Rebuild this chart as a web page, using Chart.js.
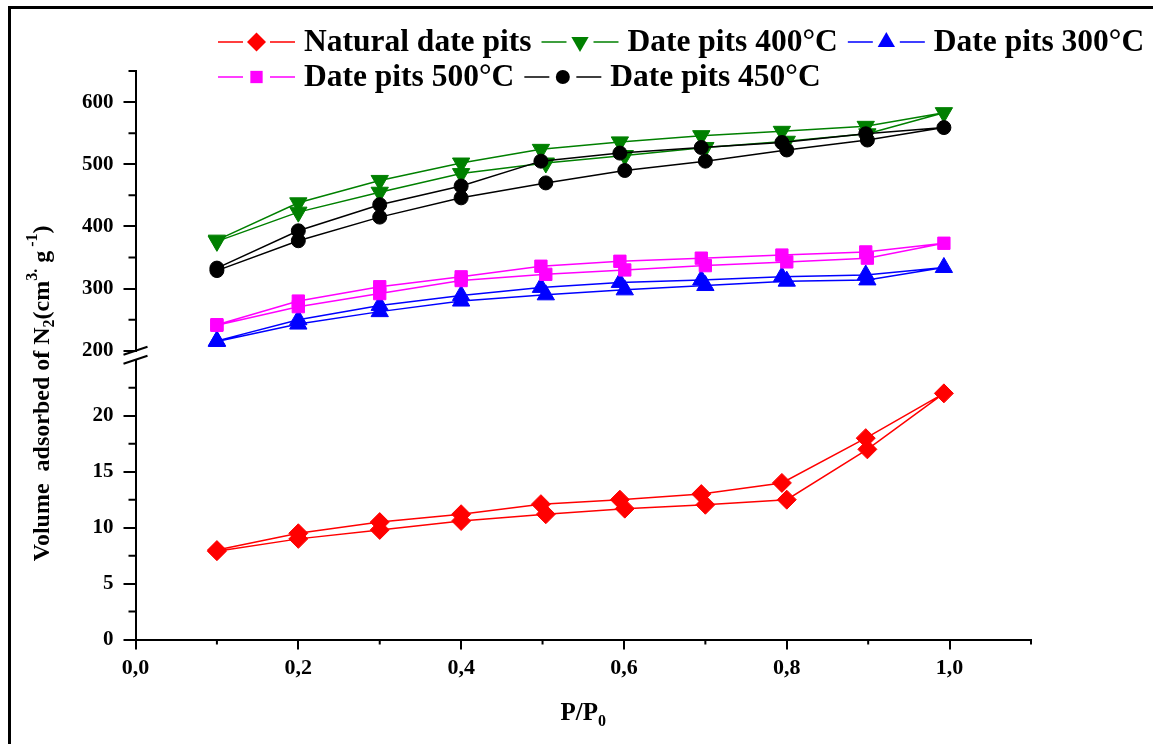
<!DOCTYPE html>
<html>
<head>
<meta charset="utf-8">
<title>N2 isotherms - date pits</title>
<script src="https://cdn.jsdelivr.net/npm/chart.js"></script>
<style>
html, body { margin: 0; padding: 0; background: #fff; }
#wrap { width: 1153px; height: 744px; }
</style>
</head>
<body>
<div id="wrap"><canvas id="chart" width="1153" height="744"></canvas></div>
<script>
// relative pressure, adsorption branch (going up) and desorption branch (coming back)
var pAds = [0.1, 0.2, 0.3, 0.4, 0.504, 0.601, 0.7, 0.8, 0.899, 0.993];
var pDes = [0.897, 0.794, 0.695, 0.595, 0.498, 0.4, 0.3, 0.2, 0.1];

// volume adsorbed (cm3/g)
var natAds = [7.9, 9.0, 9.8, 10.6, 11.2, 11.7, 12.05, 12.5, 17.0, 22.0];
var natDes = [18.0, 14.0, 13.0, 12.5, 12.1, 11.2, 10.5, 9.5, 8.0];
var t400Ads = [376, 423, 455, 485, 502, 514, 527, 537, 549, 583];
var t400Des = [561, 553, 546, 536, 524, 502, 474, 438, 378];
var t300Ads = [215, 243, 263, 280, 290, 298, 305, 312, 314, 334];
var t300Des = [322, 319, 314, 310, 302, 289, 273, 250, 216];
var t500Ads = [241, 271, 292, 313, 323, 330, 337, 343, 349, 373];
var t500Des = [359, 354, 349, 344, 336, 319, 303, 280, 242];
var t450Ads = [329, 377, 415, 446, 470, 490, 505, 523, 539, 559];
var t450Des = [549, 535, 527, 518, 505, 465, 435, 393, 333];

var seriesNames = ['Natural date pits', 'Date pits 400\u00B0C', 'Date pits 300\u00B0C', 'Date pits 500\u00B0C', 'Date pits 450\u00B0C'];

// axis ticks (major labelled, minor unlabelled)
var xTicks = [0, 0.2, 0.4, 0.6, 0.8, 1.0];
var xMinor = [0.1, 0.3, 0.5, 0.7, 0.9, 1.1];
var yLowTicks = [0, 5, 10, 15, 20];
var yLowMinor = [2.5, 7.5, 12.5, 17.5, 22.5];
var yUpTicks = [200, 300, 400, 500, 600];
var yUpMinor = [250, 350, 450, 550, 650];

function loop(ads, des) {
  var pts = [];
  for (var i = 0; i < ads.length; i++) pts.push({x: pAds[i], y: ads[i]});
  for (var j = 0; j < des.length; j++) pts.push({x: pDes[j], y: des[j]});
  return pts;
}

function series(label, ads, des, color, style, radius, rot, axis, order) {
  return {
    label: label,
    data: loop(ads, des),
    yAxisID: axis,
    order: order,
    borderColor: color,
    borderWidth: 1.5,
    backgroundColor: color,
    pointBackgroundColor: color,
    pointBorderColor: color,
    pointBorderWidth: 1,
    pointStyle: style,
    pointRadius: radius,
    pointHoverRadius: radius,
    pointRotation: rot,
    tension: 0,
    fill: false
  };
}

var serif = '"Liberation Serif", "Times New Roman", serif';

function setTicks(list) {
  return function (scale) { scale.ticks = list.map(function (v) { return {value: v}; }); };
}

var frame = {
  id: 'frame',
  beforeDraw: function (chart) {
    var ctx = chart.ctx;
    ctx.save();
    ctx.strokeStyle = '#000';
    ctx.lineWidth = 3;
    ctx.beginPath();
    ctx.moveTo(9.5, chart.height + 5);
    ctx.lineTo(9.5, 7.5);
    ctx.lineTo(chart.width + 5, 7.5);
    ctx.stroke();
    ctx.restore();
  }
};

var minorTicks = {
  id: 'minorTicks',
  afterDraw: function (chart) {
    var ctx = chart.ctx;
    var s = chart.scales;
    ctx.save();
    ctx.strokeStyle = '#000';
    ctx.lineWidth = 2;
    ctx.beginPath();
    xMinor.forEach(function (v) {
      var px = s.x.getPixelForValue(v);
      ctx.moveTo(px, s.x.top); ctx.lineTo(px, s.x.top + 5);
    });
    [[s.yLow, yLowMinor], [s.yUp, yUpMinor]].forEach(function (p) {
      p[1].forEach(function (v) {
        var py = p[0].getPixelForValue(v);
        ctx.moveTo(p[0].right, py); ctx.lineTo(p[0].right - 7, py);
      });
    });
    ctx.stroke();
    // axis break marks
    var ax = chart.chartArea.left;
    ctx.beginPath();
    [s.yUp.bottom, s.yLow.top].forEach(function (py) {
      ctx.moveTo(ax - 12, py + 4); ctx.lineTo(ax + 12, py - 4);
    });
    ctx.stroke();
    ctx.restore();
  }
};

function drawRuns(ctx, runs, size) {
  var small = Math.round(size * 0.65);
  var w = 0;
  runs.forEach(function (r) {
    ctx.font = 'bold ' + (r[1] ? small : size) + 'px ' + serif;
    r.w = ctx.measureText(r[0]).width;
    w += r.w;
  });
  var x = -w / 2;
  runs.forEach(function (r) {
    ctx.font = 'bold ' + (r[1] ? small : size) + 'px ' + serif;
    ctx.fillText(r[0], x, r[1] === 'sub' ? size * 0.3 : (r[1] === 'sup' ? -size * 0.42 : 0));
    x += r.w;
  });
}

var titles = {
  id: 'titles',
  afterDraw: function (chart) {
    var ctx = chart.ctx;
    var a = chart.chartArea;
    ctx.save();
    ctx.fillStyle = '#000';
    ctx.textBaseline = 'middle';
    ctx.textAlign = 'left';
    ctx.save();
    ctx.translate(43, (a.top + a.bottom) / 2 + 38);
    ctx.rotate(-Math.PI / 2);
    drawRuns(ctx, [['Volume  adsorbed of N'], ['2', 'sub'], ['(cm'], ['3.', 'sup'], [' g'], [' -1', 'sup'], [')']], 24);
    ctx.restore();
    ctx.save();
    ctx.translate((a.left + a.right) / 2, 714);
    drawRuns(ctx, [['P/P'], ['0', 'sub']], 25);
    ctx.restore();
    ctx.restore();
  }
};

var isoLegend = {
  id: 'isoLegend',
  afterDraw: function (chart) {
    var ctx = chart.ctx;
    var x0 = 218, x = x0, y = 42;
    ctx.save();
    ctx.font = 'bold 31.5px ' + serif;
    ctx.textBaseline = 'middle';
    chart.data.datasets.forEach(function (ds) {
      var tw = ctx.measureText(ds.label).width;
      var w = 86 + tw;
      if (x + w > chart.width - 5) { x = x0; y += 35; }
      ctx.strokeStyle = ds.borderColor;
      ctx.lineWidth = 1.5;
      ctx.beginPath();
      ctx.moveTo(x, y); ctx.lineTo(x + 25, y);
      ctx.moveTo(x + 52, y); ctx.lineTo(x + 77, y);
      ctx.stroke();
      ctx.fillStyle = ds.pointBackgroundColor;
      Chart.helpers.drawPoint(ctx, {pointStyle: ds.pointStyle, rotation: ds.pointRotation, radius: ds.pointRadius, borderWidth: 0}, x + 38.5, y);
      ctx.fillStyle = '#000';
      ctx.fillText(ds.label, x + 86, y + 1);
      x += w + 10;
    });
    ctx.restore();
  }
};

var datasets = [
  series(seriesNames[0], natAds, natDes, '#ff0000', 'rectRot', 9.5, 0, 'yLow', 4),
  series(seriesNames[1], t400Ads, t400Des, '#008000', 'triangle', 10, 180, 'yUp', 3),
  series(seriesNames[2], t300Ads, t300Des, '#0000ff', 'triangle', 10, 0, 'yUp', 2),
  series(seriesNames[3], t500Ads, t500Des, '#ff00ff', 'rect', 8.7, 0, 'yUp', 1),
  series(seriesNames[4], t450Ads, t450Des, '#000000', 'circle', 7, 0, 'yUp', 0)
];

var axisGrid = {display: true, drawOnChartArea: false, drawTicks: true, color: '#000', lineWidth: 2};
var yFont = {family: serif, size: 21, weight: 'bold'};

new Chart(document.getElementById('chart'), {
  type: 'line',
  data: {datasets: datasets},
  options: {
    responsive: false,
    animation: false,
    layout: {padding: {left: 72, right: 122, top: 71, bottom: 56}},
    plugins: {legend: {display: false}, tooltip: {enabled: false}},
    scales: {
      x: {
        type: 'linear',
        min: 0, max: 1.1,
        afterBuildTicks: setTicks(xTicks),
        grid: Object.assign({}, axisGrid, {tickLength: 10}),
        border: {display: true, color: '#000', width: 2},
        ticks: {
          color: '#000', padding: 6,
          font: {family: serif, size: 22, weight: 'bold'},
          callback: function (v) { return v.toFixed(1).replace('.', ','); }
        }
      },
      // stacked left axes: later ones are placed higher
      yLow: {
        type: 'linear', position: 'left', stack: 'v', stackWeight: 280,
        min: 0, max: 25,
        afterBuildTicks: setTicks(yLowTicks),
        grid: Object.assign({}, axisGrid, {tickLength: 12}),
        border: {display: true, color: '#000', width: 2},
        ticks: {color: '#000', padding: 10, font: yFont}
      },
      yGap: {
        type: 'linear', position: 'left', stack: 'v', stackWeight: 9,
        min: 0, max: 1,
        grid: {display: false, drawTicks: false},
        border: {display: false},
        ticks: {display: false}
      },
      yUp: {
        type: 'linear', position: 'left', stack: 'v', stackWeight: 280,
        min: 200, max: 650,
        afterBuildTicks: setTicks(yUpTicks),
        grid: Object.assign({}, axisGrid, {tickLength: 12}),
        border: {display: true, color: '#000', width: 2},
        ticks: {color: '#000', padding: 10, font: yFont}
      }
    }
  },
  plugins: [frame, minorTicks, titles, isoLegend]
});
</script>
</body>
</html>
